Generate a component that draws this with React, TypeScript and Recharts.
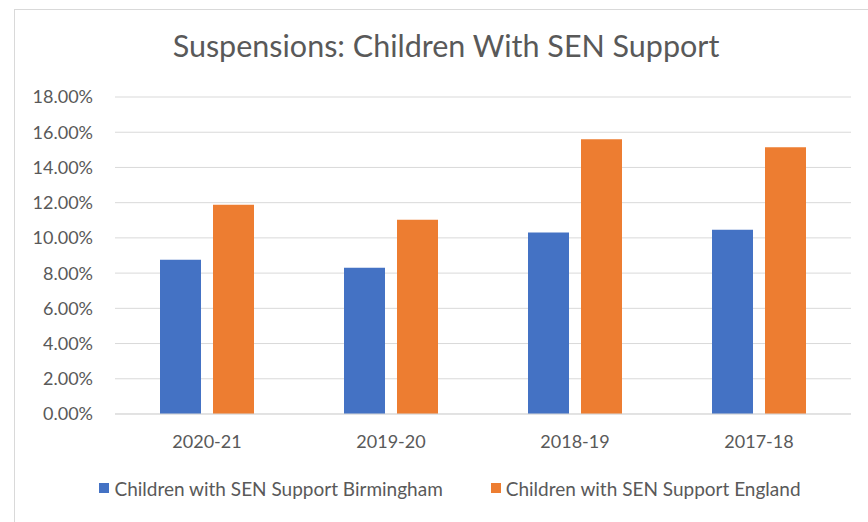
import { BarChart, Bar, XAxis, YAxis, CartesianGrid, Legend } from "recharts";

const years = ["2020-21", "2019-20", "2018-19", "2017-18"];
const birmingham = [0.0876, 0.0831, 0.1031, 0.1046];
const england = [0.1188, 0.1103, 0.156, 0.1514];
const yTicks = [0, 0.02, 0.04, 0.06, 0.08, 0.1, 0.12, 0.14, 0.16, 0.18];

const BLUE = "#4472C4";
const ORANGE = "#ED7D31";
const TEXT = "#595959";
const FONT = "Lato, 'Open Sans', sans-serif";

const data = years.map((year, i) => ({
  year,
  birmingham: birmingham[i],
  england: england[i],
}));

const seriesNames: Record<string, string> = {
  birmingham: "Children with SEN Support Birmingham",
  england: "Children with SEN Support England",
};

function LegendContent() {
  const items = [
    { key: "birmingham", color: BLUE },
    { key: "england", color: ORANGE },
  ];
  return (
    <div style={{ display: "flex", justifyContent: "center", alignItems: "center", height: 28, gap: 48 }}>
      {items.map((it) => (
        <div key={it.key} style={{ display: "flex", alignItems: "center", gap: 5 }}>
          <span style={{ width: 10, height: 10, background: it.color, display: "inline-block" }} />
          <span style={{ color: TEXT, fontSize: 19, fontFamily: FONT }}>{seriesNames[it.key]}</span>
        </div>
      ))}
    </div>
  );
}

export default function App() {
  return (
    <div style={{ position: "fixed", left: 0, top: 0, width: 868, height: 522, background: "#fff", overflow: "hidden", fontFamily: FONT }}>
      <div style={{ position: "absolute", left: 14, top: 9, width: 900, height: 600, border: "1px solid #d9d9d9", boxSizing: "border-box" }} />
      <div style={{ position: "absolute", left: 14, width: 864, top: 27, textAlign: "center", color: TEXT, fontSize: 30.5, fontFamily: FONT }}>
        Suspensions: Children With SEN Support
      </div>
      <div style={{ position: "absolute", left: 0, top: 0 }}>
        <BarChart
          width={868}
          height={522}
          data={data}
          margin={{ top: 97, right: 17, left: 0, bottom: 20 }}
          barSize={41}
          barGap={12}
        >
          <CartesianGrid vertical={false} stroke="#d9d9d9" strokeWidth={1} />
          <XAxis
            dataKey="year"
            height={60}
            tickLine={false}
            axisLine={{ stroke: "#d9d9d9" }}
            tickMargin={15}
            tick={{ fill: TEXT, fontSize: 18, fontFamily: FONT }}
          />
          <YAxis
            width={115}
            domain={[0, 0.18]}
            ticks={yTicks}
            interval={0}
            tickLine={false}
            axisLine={false}
            tickMargin={16}
            tickFormatter={(v: number) => (v * 100).toFixed(2) + "%"}
            tick={{ fill: TEXT, fontSize: 18, fontFamily: FONT }}
          />
          <Legend verticalAlign="bottom" wrapperStyle={{ left: 14, width: 872, height: 28 }} content={() => <LegendContent />} />
          <Bar dataKey="birmingham" name={seriesNames.birmingham} fill={BLUE} isAnimationActive={false} />
          <Bar dataKey="england" name={seriesNames.england} fill={ORANGE} isAnimationActive={false} />
        </BarChart>
      </div>
    </div>
  );
}
